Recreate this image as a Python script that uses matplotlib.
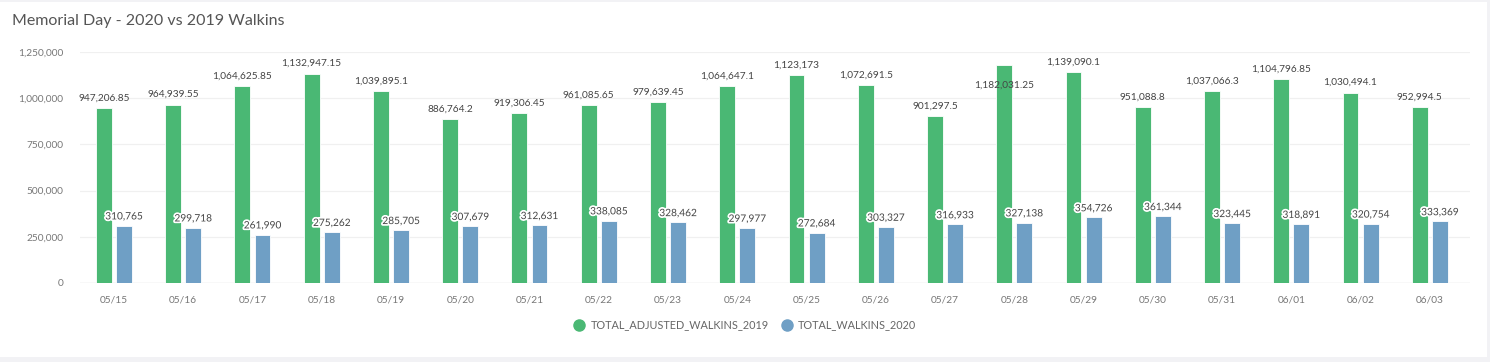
import numpy as np
import matplotlib.pyplot as plt
import matplotlib.patheffects as pe
from matplotlib.patches import Rectangle
from matplotlib.lines import Line2D

# data
days = ["05/15", "05/16", "05/17", "05/18", "05/19", "05/20", "05/21", "05/22",
        "05/23", "05/24", "05/25", "05/26", "05/27", "05/28", "05/29", "05/30",
        "05/31", "06/01", "06/02", "06/03"]
walkins_2019 = [947206.85, 964939.55, 1064625.85, 1132947.15, 1039895.1, 886764.2,
                919306.45, 961085.65, 979639.45, 1064647.1, 1123173, 1072691.5,
                901297.5, 1182031.25, 1139090.1, 951088.8, 1037066.3, 1104796.85,
                1030494.1, 952994.5]
walkins_2020 = [310765, 299718, 261990, 275262, 285705, 307679, 312631, 338085,
                328462, 297977, 272684, 303327, 316933, 327138, 354726, 361344,
                323445, 318891, 320754, 333369]
yticks = [0, 250000, 500000, 750000, 1000000, 1250000]

green = "#4ab874"
blue = "#6f9fc5"

plt.rcParams["font.family"] = ["Lato", "DejaVu Sans"]

fig = plt.figure(figsize=(14.9, 3.62), dpi=100)
fig.patch.set_facecolor("#f2f2f5")
fig.add_artist(Rectangle((0, 5 / 362), 1487 / 1490, 355 / 362, transform=fig.transFigure,
                         facecolor="white", edgecolor="none", zorder=0))

ax = fig.add_axes([80 / 1490, 1 - 283 / 362, 1390 / 1490, 231 / 362])
ax.set_facecolor("none")

x = np.arange(len(days))
w = 0.23
off = 0.145
ax.bar(x - off, walkins_2019, w, color=green, edgecolor="white", linewidth=0.6, zorder=2)
ax.bar(x + off, walkins_2020, w, color=blue, edgecolor="white", linewidth=0.6, zorder=2)

halo = [pe.withStroke(linewidth=2.5, foreground="white")]
for i, v in enumerate(walkins_2019):
    dy = 4
    if days[i] == "05/28":
        dy = -18  # label pushed down into the bar in the original
    ax.annotate(f"{v:,.2f}".rstrip("0").rstrip("."), (x[i] - off, v), xytext=(0, dy),
                textcoords="offset points", ha="center", va="bottom",
                fontsize=7.3, color="#444444", zorder=4)
for i, v in enumerate(walkins_2020):
    ax.annotate(f"{v:,}", (x[i] + off, v), xytext=(0, 3), textcoords="offset points",
                ha="center", va="bottom", fontsize=7.3, color="#444444",
                path_effects=halo, zorder=4)

ax.set_xlim(-0.49, 19.58)
ax.set_ylim(0, 1250000)
ax.set_yticks(yticks)
ax.set_yticklabels([f"{t:,}" for t in yticks])
ax.set_xticks(x)
ax.set_xticklabels(days)
ax.tick_params(axis="both", length=0, labelsize=7.3, labelcolor="#777777")
ax.tick_params(axis="y", pad=12)
ax.tick_params(axis="x", pad=9)
ax.grid(axis="y", color="#f0f0f0", linewidth=0.9, zorder=0)
for s in ax.spines.values():
    s.set_visible(False)
ax.axhline(0, color="#e6e6e6", linewidth=1, zorder=1)

fig.text(12 / 1490, 1 - 21 / 362, "Memorial Day - 2020 vs 2019 Walkins", fontsize=11.5,
         color="#555555", va="center", ha="left")

handles = [Line2D([], [], marker="o", linestyle="none", markersize=8, color=green),
           Line2D([], [], marker="o", linestyle="none", markersize=8, color=blue)]
fig.legend(handles, ["TOTAL_ADJUSTED_WALKINS_2019", "TOTAL_WALKINS_2020"],
           loc="center", bbox_to_anchor=(745 / 1490, 1 - 325 / 362), ncol=2, frameon=False,
           fontsize=7.8, labelcolor="#666666", handlelength=1.0, handletextpad=0.5,
           columnspacing=1.2)

fig.savefig("out.png", dpi=100, facecolor=fig.get_facecolor())
